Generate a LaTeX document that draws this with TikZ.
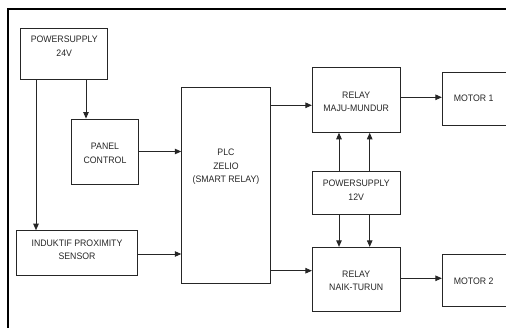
\documentclass[tikz,border=0pt]{standalone}
\usepackage{fontspec}
\setmainfont{Liberation Sans}
\newfontfamily\labfont[FakeStretch=0.93]{Liberation Sans}
\usetikzlibrary{arrows.meta}
\begin{document}
\begin{tikzpicture}[x=1pt,y=-1pt,
  box/.style={draw=black!85, line width=0.9pt, inner sep=0pt},
  txt/.style={font=\labfont\fontsize{9.4}{13.6}\selectfont, align=center, inner sep=0pt, text=black!85},
  arr/.style={draw=black!85, line width=0.9pt, -{Triangle[length=6.5pt,width=5.5pt]}}]
\useasboundingbox (0,0) rectangle (506,327);
\clip (0,0) rectangle (506,327);
\draw[line width=2pt] (8.3,340) -- (8.3,9.3) -- (520,9.3);
% boxes
\node[box, minimum width=87pt, minimum height=51pt] (ps24) at (64.2,53.8) {};
\node[txt] (ps24t) at (64.2,46.5) {POWERSUPPLY\\24V};
\node[box, minimum width=66.6pt, minimum height=65pt] (panel) at (105,151.5) {};
\node[txt] (panelt) at (105,153.3) {PANEL\\CONTROL};
\node[box, minimum width=121pt, minimum height=44.3pt] (ind) at (77,252.8) {};
\node[txt] (indt) at (77,249.7) {INDUKTIF PROXIMITY\\SENSOR};
\node[box, minimum width=88.6pt, minimum height=195.3pt] (plc) at (226,185.3) {};
\node[txt] (plct) at (226,167) {PLC\\ZELIO\\(SMART RELAY)};
\node[box, minimum width=87.7pt, minimum height=64.6pt] (rmm) at (356.2,100) {};
\node[txt] (rmmt) at (356.2,101.7) {RELAY\\MAJU-MUNDUR};
\node[box, minimum width=87.7pt, minimum height=42.7pt] (ps12) at (356.2,192.7) {};
\node[txt] (ps12t) at (356.2,190.3) {POWERSUPPLY\\12V};
\node[box, minimum width=87.7pt, minimum height=64.4pt] (rnt) at (356.2,279.5) {};
\node[txt] (rntt) at (356.2,281) {RELAY\\NAIK-TURUN};
\node[box, minimum width=87.7pt, minimum height=52.3pt] (m1) at (486.2,98.8) {};
\node[txt] (m1t) at (473.7,98.6) {MOTOR 1};
\node[box, minimum width=87.7pt, minimum height=52pt] (m2) at (486.2,280.7) {};
\node[txt] (m2t) at (473.7,281.3) {MOTOR 2};
% connectors
\draw[arr] (86,0 |- ps24.south) -- (86,0 |- panel.north);
\draw[arr] (36,0 |- ps24.south) -- (36,0 |- ind.north);
\draw[arr] (panel.east) -- (panel.east -| plc.west);
\draw[arr] (0,254 -| ind.east) -- (0,254 -| plc.west);
\draw[arr] (0,105.3 -| plc.east) -- (0,105.3 -| rmm.west);
\draw[arr] (0,270.7 -| plc.east) -- (0,270.7 -| rnt.west);
\draw[arr] (0,97.3 -| rmm.east) -- (0,97.3 -| m1.west);
\draw[arr] (0,278.3 -| rnt.east) -- (0,278.3 -| m2.west);
\draw[arr] (339,0 |- ps12.north) -- (339,0 |- rmm.south);
\draw[arr] (369.7,0 |- ps12.north) -- (369.7,0 |- rmm.south);
\draw[arr] (339,0 |- ps12.south) -- (339,0 |- rnt.north);
\draw[arr] (369.7,0 |- ps12.south) -- (369.7,0 |- rnt.north);
\end{tikzpicture}
\end{document}
